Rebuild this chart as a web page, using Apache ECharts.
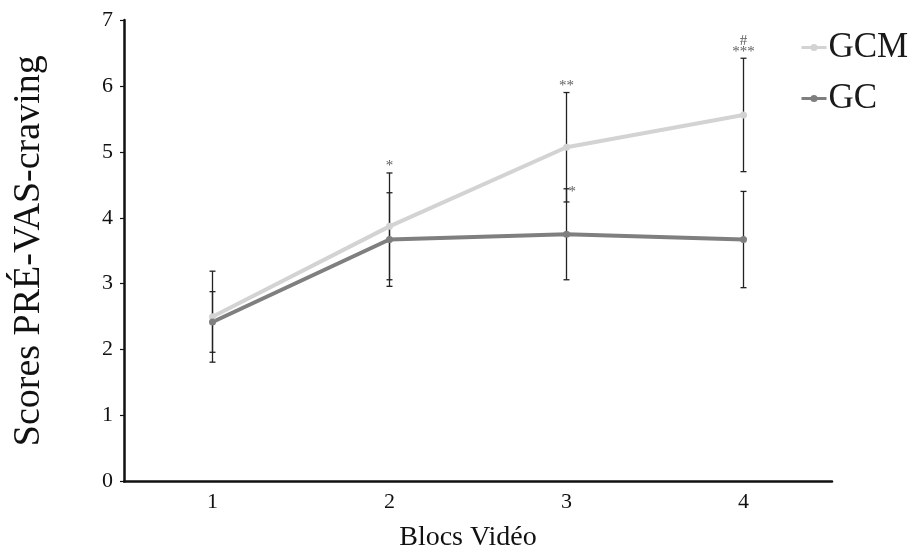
<!DOCTYPE html>
<html>
<head>
<meta charset="utf-8">
<script src="https://cdn.jsdelivr.net/npm/echarts@6/dist/echarts.min.js"></script>
<style>
html,body{margin:0;padding:0;background:#fff;}
#chart{width:910px;height:554px;}
</style>
</head>
<body>
<div id="chart"></div>
<script>
// ---- data ----
var categories = ['1', '2', '3', '4'];
var yTicks = [0, 1, 2, 3, 4, 5, 6, 7];
var gcmMean = [2.50, 3.87, 5.07, 5.56];
var gcmErr  = [0.69, 0.81, 0.83, 0.86];
var gcMean  = [2.42, 3.67, 3.75, 3.67];
var gcErr   = [0.46, 0.71, 0.69, 0.73];
var gcmSig  = ['', '*', '**', '#\n***'];
var gcSig   = ['', '', '*', ''];
var seriesNames = ['GCM', 'GC'];
var xTitle = 'Blocs Vidéo';
var yTitle = 'Scores PRÉ-VAS-craving';

var FONT = '"Liberation Serif", "Times New Roman", serif';
var GCM_COLOR = '#d3d3d3';
var GC_COLOR = '#7f7f7f';

function errData(mean, err) {
  return mean.map(function (m, i) { return [i, m - err[i], m + err[i]]; });
}
function errRender(params, api) {
  var x = api.value(0);
  var lo = api.coord([x, api.value(1)]);
  var hi = api.coord([x, api.value(2)]);
  var hw = 3;
  var st = { stroke: '#222', lineWidth: 1.3 };
  return {
    type: 'group',
    children: [
      { type: 'line', shape: { x1: lo[0], y1: lo[1], x2: hi[0], y2: hi[1] }, style: st },
      { type: 'line', shape: { x1: lo[0] - hw, y1: lo[1], x2: lo[0] + hw, y2: lo[1] }, style: st },
      { type: 'line', shape: { x1: hi[0] - hw, y1: hi[1], x2: hi[0] + hw, y2: hi[1] }, style: st }
    ]
  };
}
function sigData(mean, err, sig) {
  var out = [];
  mean.forEach(function (m, i) {
    if (sig[i]) out.push({ value: [i, m + err[i]], sigText: sig[i] });
  });
  return out;
}

var chart = echarts.init(document.getElementById('chart'), null, { renderer: 'canvas' });
chart.setOption({
  backgroundColor: '#fff',
  animation: false,
  textStyle: { fontFamily: FONT },
  grid: { left: 124, right: 78, top: 20, bottom: 72.5, containLabel: false, outerBoundsMode: 'none' },
  legend: {
    orient: 'vertical',
    left: 795,
    top: 25,
    itemGap: 16,
    itemWidth: 25,
    itemHeight: 9,
    data: seriesNames,
    lineStyle: { width: 3 },
    textStyle: { fontFamily: FONT, fontSize: 35, color: '#1a1a1a', padding: [0, 0, 0, -3] }
  },
  xAxis: {
    type: 'category',
    data: categories,
    boundaryGap: true,
    name: xTitle,
    nameLocation: 'middle',
    nameGap: 42,
    nameTextStyle: { fontFamily: FONT, fontSize: 28, color: '#111', padding: [0, 20, 0, 0] },
    axisLine: { lineStyle: { color: '#111', width: 2.5 } },
    axisTick: { alignWithLabel: true, length: 4, lineStyle: { color: '#111', width: 1.2 } },
    axisLabel: { fontFamily: FONT, fontSize: 22, color: '#111', margin: 10 },
    splitLine: { show: false }
  },
  yAxis: {
    type: 'value',
    min: yTicks[0],
    max: yTicks[yTicks.length - 1],
    interval: 1,
    name: yTitle,
    nameLocation: 'middle',
    nameGap: 76,
    nameTextStyle: { fontFamily: FONT, fontSize: 38, color: '#111' },
    axisLine: { show: true, lineStyle: { color: '#111', width: 2.5 } },
    axisTick: { show: true, length: 4, lineStyle: { color: '#111', width: 1.2 } },
    axisLabel: { fontFamily: FONT, fontSize: 22, color: '#111', margin: 11 },
    splitLine: { show: false }
  },
  series: [
    {
      type: 'custom', name: 'errGCM', renderItem: errRender,
      data: errData(gcmMean, gcmErr), z: 1, silent: true
    },
    {
      type: 'custom', name: 'errGC', renderItem: errRender,
      data: errData(gcMean, gcErr), z: 1, silent: true
    },
    {
      name: seriesNames[0], type: 'line', data: gcmMean,
      symbol: 'circle', symbolSize: 7, z: 3,
      lineStyle: { color: GCM_COLOR, width: 4 },
      itemStyle: { color: GCM_COLOR }
    },
    {
      name: seriesNames[1], type: 'line', data: gcMean,
      symbol: 'circle', symbolSize: 7, z: 3,
      lineStyle: { color: GC_COLOR, width: 4 },
      itemStyle: { color: GC_COLOR }
    },
    {
      type: 'scatter', name: 'sigGCM', symbolSize: 0, z: 5, silent: true,
      data: sigData(gcmMean, gcmErr, gcmSig),
      label: {
        show: true, position: 'top', distance: 1,
        fontFamily: FONT, fontSize: 15, lineHeight: 11, color: '#333',
        formatter: function (p) { return p.data.sigText; }
      }
    },
    {
      type: 'scatter', name: 'sigGC', symbolSize: 0, z: 5, silent: true,
      data: sigData(gcMean, gcErr, gcSig),
      label: {
        show: true, position: 'right', distance: 2, offset: [0, 3],
        fontFamily: FONT, fontSize: 15, color: '#333',
        formatter: function (p) { return p.data.sigText; }
      }
    }
  ]
});
</script>
</body>
</html>
